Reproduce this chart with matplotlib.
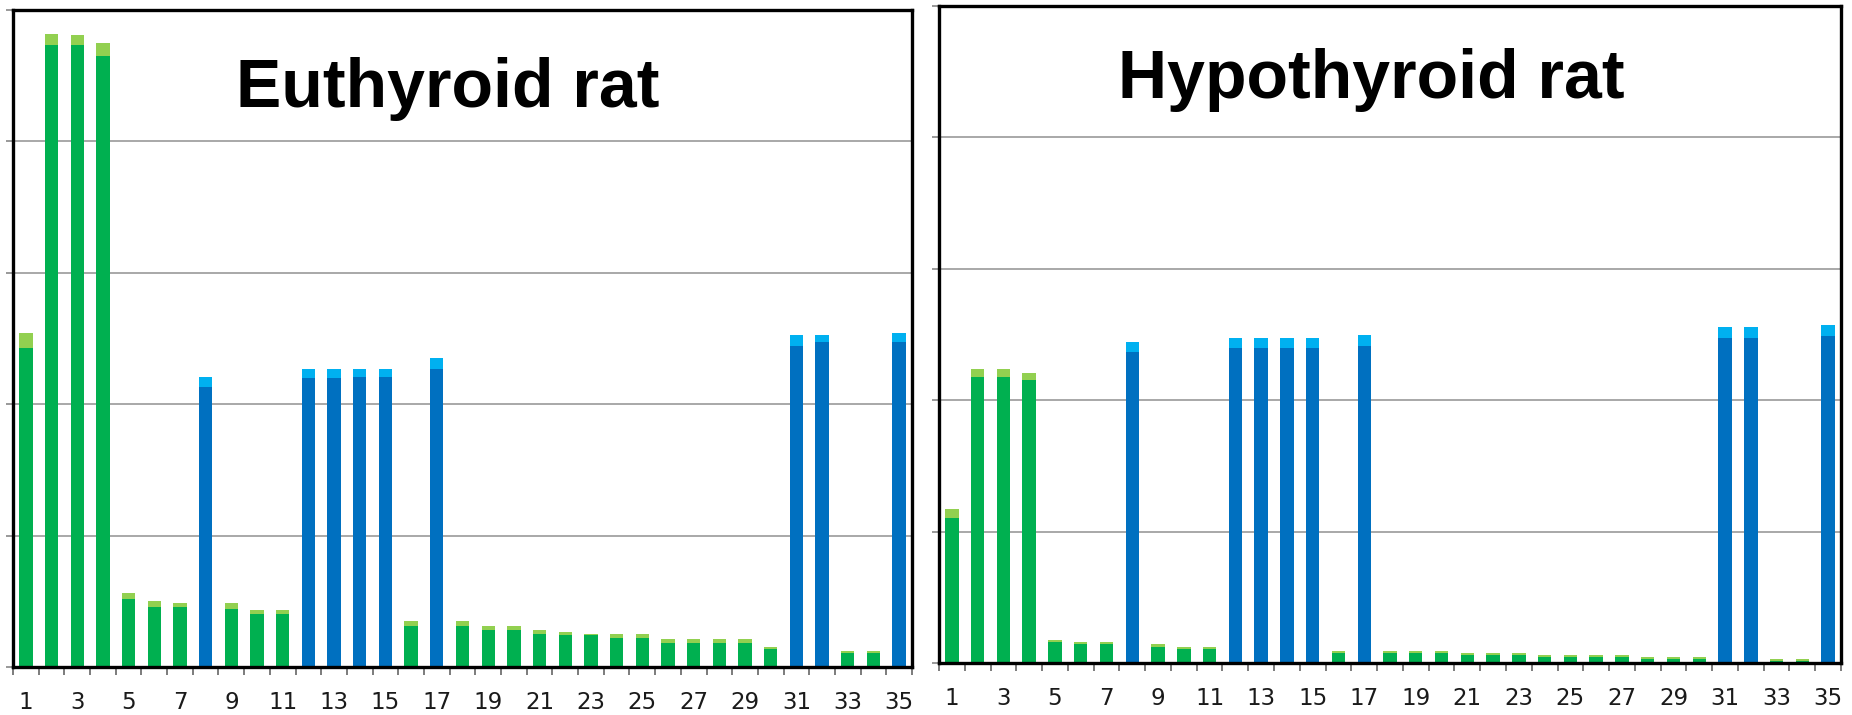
import matplotlib
matplotlib.use("Agg")
import matplotlib.pyplot as plt
import numpy as np

# category numbers 1..35
categories = list(range(1, 36))
# categories drawn in blue (the rest are green)
blue_cats = [8, 12, 13, 14, 15, 17, 31, 32, 35]

# Euthyroid rat: lower (dark) segment and full stack height
eu_dark = [2.43, 4.73, 4.73, 4.65, 0.52, 0.46, 0.46, 2.13, 0.44, 0.40,
           0.40, 2.20, 2.20, 2.21, 2.21, 0.31, 2.27, 0.31, 0.28, 0.28,
           0.25, 0.24, 0.24, 0.22, 0.22, 0.18, 0.18, 0.18, 0.18, 0.14,
           2.44, 2.47, 0.11, 0.11, 2.47]
eu_total = [2.54, 4.82, 4.81, 4.75, 0.56, 0.50, 0.49, 2.21, 0.49, 0.43,
            0.43, 2.27, 2.27, 2.27, 2.27, 0.35, 2.35, 0.35, 0.31, 0.31,
            0.28, 0.27, 0.25, 0.25, 0.25, 0.21, 0.21, 0.21, 0.21, 0.15,
            2.53, 2.53, 0.12, 0.12, 2.54]

# Hypothyroid rat
hy_dark = [1.10, 2.18, 2.18, 2.15, 0.16, 0.145, 0.145, 2.37, 0.12, 0.11,
           0.11, 2.40, 2.40, 2.40, 2.40, 0.076, 2.41, 0.076, 0.076, 0.076,
           0.061, 0.061, 0.061, 0.046, 0.046, 0.046, 0.046, 0.030, 0.030, 0.030,
           2.47, 2.47, 0.015, 0.015, 2.49]
hy_total = [1.17, 2.24, 2.24, 2.21, 0.175, 0.16, 0.16, 2.44, 0.145, 0.122,
            0.122, 2.47, 2.47, 2.47, 2.47, 0.091, 2.50, 0.091, 0.091, 0.091,
            0.076, 0.076, 0.076, 0.061, 0.061, 0.061, 0.061, 0.046, 0.046, 0.046,
            2.56, 2.56, 0.030, 0.030, 2.57]

GREEN_DARK = '#00B050'
GREEN_LIGHT = '#92D050'
BLUE_DARK = '#0070C0'
BLUE_LIGHT = '#00B0F0'

W, H = 1852, 715
fig = plt.figure(figsize=(W / 100, H / 100), dpi=100)


def panel(rect, title, dark, total, title_x, title_y):
    ax = fig.add_axes(rect)
    x = np.array(categories)
    dark = np.array(dark)
    light = np.array(total) - dark
    is_blue = np.isin(x, blue_cats)
    dark_c = [BLUE_DARK if b else GREEN_DARK for b in is_blue]
    light_c = [BLUE_LIGHT if b else GREEN_LIGHT for b in is_blue]
    ax.bar(x, dark, width=0.52, color=dark_c, zorder=2)
    ax.bar(x, light, bottom=dark, width=0.52, color=light_c, zorder=2)

    ax.set_xlim(0.5, 35.5)
    ax.set_ylim(0, 5)
    ax.set_yticks([0, 1, 2, 3, 4, 5])
    ax.set_yticklabels([])
    ax.yaxis.grid(True, color='#9a9a9a', linewidth=1.2, zorder=0)
    ax.set_axisbelow(True)
    ax.tick_params(axis='y', direction='out', length=5, width=1.2, color='#888888')

    ax.set_xticks(categories[::2])
    ax.set_xticklabels([str(c) for c in categories[::2]],
                       fontsize=16.5, family='DejaVu Sans', color='#1a1a1a')
    ax.set_xticks(np.arange(0.5, 36, 1), minor=True)
    ax.tick_params(axis='x', which='major', length=0, pad=17)
    ax.tick_params(axis='x', which='minor', direction='out', length=6,
                   width=1.2, color='#666666')

    for s in ax.spines.values():
        s.set_linewidth(2.4)
        s.set_color('black')

    ax.text(title_x, title_y, title, transform=ax.transAxes, ha='center',
            va='baseline', fontsize=49, fontweight='bold',
            family='Liberation Sans')
    return ax


panel([13 / W, 1 - 667 / H, (912 - 13) / W, (667 - 10) / H],
      'Euthyroid rat', eu_dark, eu_total, 0.484, 0.852)
panel([939 / W, 1 - 663 / H, (1841 - 939) / W, (663 - 6) / H],
      'Hypothyroid rat', hy_dark, hy_total, 0.479, 0.860)

fig.savefig('out.png', dpi=100)
